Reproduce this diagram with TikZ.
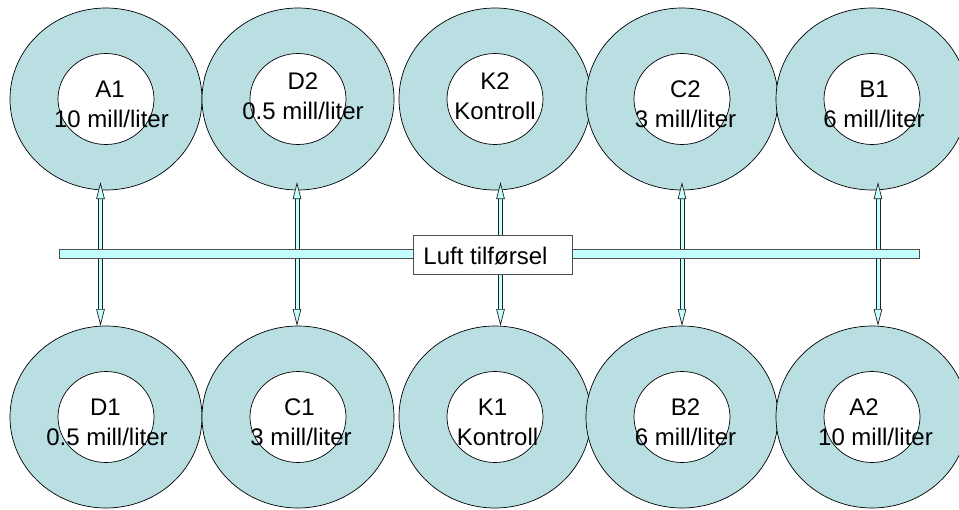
\documentclass[tikz,border=0pt]{standalone}
\usepackage{fontspec}
\setmainfont{Liberation Sans}
\usetikzlibrary{shapes.geometric,arrows.meta}
\definecolor{ring}{HTML}{B9DFE3}
\definecolor{pale}{HTML}{C4FFFF}
\definecolor{edge}{HTML}{222222}
\newcommand{\firstline}[2]{\hbox{\kern#1pt #2}}
\tikzset{
  x=1pt,y=-1pt,
  outerring/.style={ellipse,draw=black,line width=0.7pt,fill=ring,minimum width=192pt,minimum height=182pt,inner sep=0pt},
  innerhole/.style={ellipse,draw=black,line width=0.7pt,fill=white,minimum width=96pt,minimum height=91pt,inner sep=0pt},
  lbl/.style={align=center,inner sep=0pt,font=\fontsize{24}{30}\selectfont,text=black},
  airarrow/.style={draw=edge,line width=1pt,double=pale,double distance=3pt,
    {Triangle[length=17pt,width=8.5pt,fill=pale,line width=0.7pt]}-{Triangle[length=17pt,width=8.5pt,fill=pale,line width=0.7pt]}},
  airbar/.style={draw=edge!80,line width=0.8pt,fill=pale,minimum width=860pt,minimum height=8.5pt,inner sep=0pt},
  airbox/.style={draw=edge!80,line width=0.8pt,fill=white,minimum width=159pt,minimum height=39pt,inner sep=0pt,text=black,font=\fontsize{24}{27}\selectfont}
}
\begin{document}
\begin{tikzpicture}
\useasboundingbox (0,0) rectangle (959,509);
\foreach \n/\cx/\cy in {A1/106/99,D2/298/99,K2/495/99,C2/682/99,B1/872/99,D1/106/417,C1/298/417,K1/495/417,B2/682/417,A2/872/417}{
  \node[outerring] (o\n) at (\cx,\cy) {};
  \node[innerhole] (i\n) at (\cx,\cy) {};
}
\node[lbl] (tA1) at (111.5,104.5) {\firstline{-3}{A1}\\10 mill/liter};
\node[lbl] (tD2) at (303,96.5) {D2\\0.5 mill/liter};
\node[lbl] (tK2) at (495,96.5) {K2\\Kontroll};
\node[lbl] (tC2) at (685.5,104.5) {C2\\3 mill/liter};
\node[lbl] (tB1) at (874,104.5) {B1\\6 mill/liter};
\node[lbl] (tD1) at (107,422.5) {\firstline{-3}{D1}\\0.5 mill/liter};
\node[lbl] (tC1) at (301,422.5) {\firstline{-3}{C1}\\3 mill/liter};
\node[lbl] (tK1) at (497.5,422.5) {\firstline{-10}{K1}\\Kontroll};
\node[lbl] (tB2) at (685.5,422.5) {B2\\6 mill/liter};
\node[lbl] (tA2) at (875.5,422.5) {\firstline{-23}{A2}\\10 mill/liter};
\foreach \i/\x in {1/100.5,2/297,3/500.5,4/682,5/878}{
  \coordinate (up\i) at (\x,182);
  \coordinate (dn\i) at (\x,326);
  \draw[airarrow] (up\i) -- (dn\i);
}
\node[airbar] (bar) at (489,254) {};
\node[airbox] (box) at (492.5,254.5) {\raisebox{-10pt}[0pt][0pt]{Luft tilførsel}\hspace{14pt}\mbox{}};
\end{tikzpicture}
\end{document}
